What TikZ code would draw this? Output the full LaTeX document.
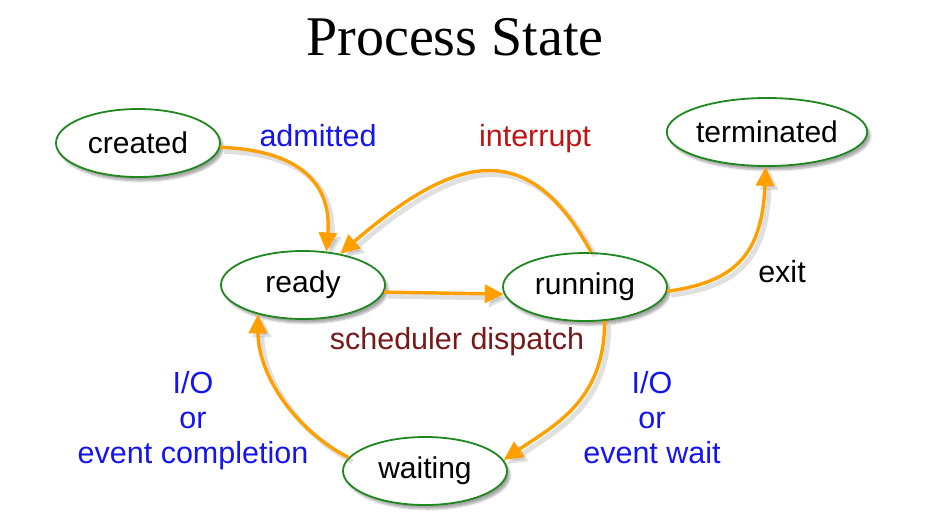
\documentclass[tikz,border=0pt]{standalone}
\usepackage{fontspec}
\setmainfont{Liberation Sans}
\newfontfamily\titlefont{Liberation Serif}
\usetikzlibrary{shapes.geometric,arrows.meta,shadows.blur}
\definecolor{stgreen}{RGB}{30,135,30}
\definecolor{arrorange}{RGB}{255,160,0}
\definecolor{lblblue}{RGB}{20,20,240}
\definecolor{lblred}{RGB}{190,20,20}
\definecolor{lblmaroon}{RGB}{120,25,25}
\tikzset{
  state/.style={ellipse, draw=stgreen, line width=1.8pt, fill=white,
    minimum width=164pt, minimum height=68pt, inner sep=0pt,
    font=\fontsize{30}{34}\selectfont,
    blur shadow={shadow xshift=3pt, shadow yshift=-4pt, shadow blur steps=6, shadow opacity=35}},
  flow/.style={draw=arrorange, line width=3.4pt,
    -{Triangle[length=19pt,width=18pt]}},
  flowshadow/.style={draw=black!60, draw opacity=.2, fill opacity=.2, line width=5pt,
    -{Triangle[length=19pt,width=18pt]}},
  lbl/.style={font=\fontsize{30.5}{35}\selectfont, align=center},
}
\newcommand{\alledges}[1]{%
\path[#1] (created.-3) .. controls (295,-150) and (332,-180) .. (ready.55);
\path[#1] (running.80) .. controls (530,-140) and (460,-150) .. (ready.40);
\path[#1] (ready.-5) -- (running.185);
\path[#1] (running.-3) .. controls (735,-282) and (762,-255) .. (terminated.-92);
\path[#1] (running.-60) .. controls (605,-400) and (555,-425) .. (waiting.8);
\path[#1] (waiting.170) .. controls (295,-430) and (258,-375) .. (ready.213);
}
\begin{document}
\begin{tikzpicture}[x=1pt,y=1pt]
\useasboundingbox (0,0) rectangle (926,-520);
\node[font=\titlefont\fontsize{56}{60}\selectfont] (title) at (455,-37) {Process State};

\node[state] (created) at (138,-143) {created};
\node[state] (ready) at (303,-285) {ready};
\node[state] (running) at (585,-287) {running};
\node[state] (terminated) at (767,-132) {terminated};
\node[state] (waiting) at (425,-471) {waiting};

\begin{scope}[transform canvas={shift={(4pt,-4pt)}}]
\alledges{flowshadow}
\end{scope}
\alledges{flow}

\node[lbl, text=lblblue] (ladm) at (318,-136) {admitted};
\node[lbl, text=lblred] (lint) at (535,-139) {interrupt};
\node[lbl, text=lblmaroon] (lsch) at (457,-342) {scheduler dispatch};
\node[lbl] (lexit) at (782,-272) {exit};
\node[lbl, text=lblblue] (lcomp) at (193,-421) {I/O\\or\\event completion};
\node[lbl, text=lblblue] (lwait) at (652,-418) {I/O\\or\\event wait};
\end{tikzpicture}
\end{document}
